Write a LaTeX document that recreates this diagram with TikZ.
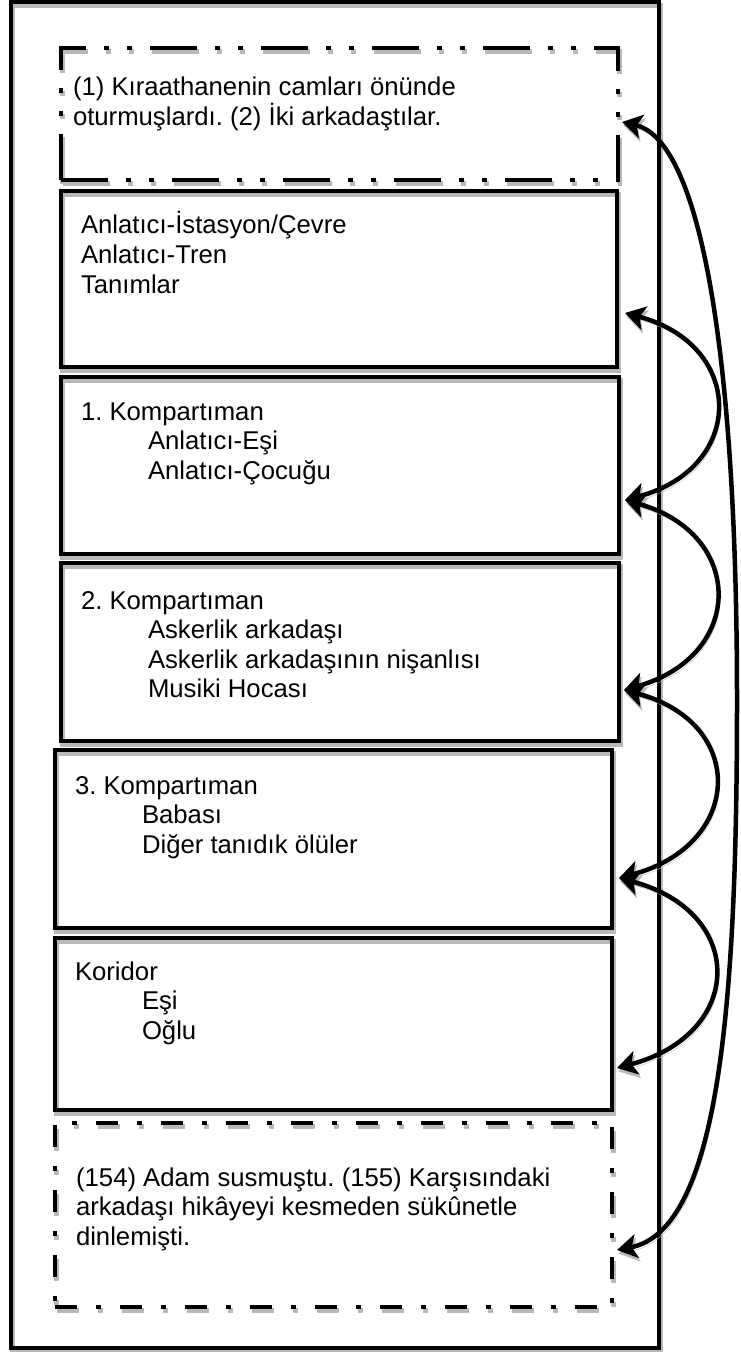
\documentclass[tikz,border=0pt]{standalone}
\usepackage{fontspec}
\setmainfont{Liberation Sans}
\usetikzlibrary{arrows.meta}
\frenchspacing
\begin{document}
\begin{tikzpicture}[x=1bp,y=-1bp,
  shadowed/.style={preaction={draw=black!28, transform canvas={shift={(1.5bp,-3.5bp)}}}},
  boxshape/.style={rectangle, anchor=north west, inner sep=0pt, outer sep=0pt, line width=4.5bp, draw=black, shadowed},
  solidbox/.style={boxshape},
  ddbox/.style={boxshape, dash pattern=on 47bp off 18bp on 5bp off 18bp on 5bp off 18bp},
  dbox/.style={boxshape, dash pattern=on 22bp off 19bp on 5bp off 19bp},
  txt/.style={anchor=base west, inner sep=0pt, outer sep=0pt, font=\fontsize{25.7bp}{29.5bp}\selectfont},
  link/.style={draw=black, line width=4.5bp, shadowed,
    {Stealth[length=20bp,width=24bp,inset=5bp]}-{Stealth[length=20bp,width=24bp,inset=5bp]}}
]
\useasboundingbox (0,0) rectangle (740,1352);
\fill[white] (0,0) rectangle (740,1352);

% outer frame
\node[boxshape, minimum width=648bp, minimum height=1346bp] (outer) at (11,2) {};

% boxes
\node[ddbox,    minimum width=557bp, minimum height=132bp] (b1) at (61,48) {};
\node[solidbox, minimum width=556bp, minimum height=176bp] (b2) at (61,191) {};
\node[solidbox, minimum width=558bp, minimum height=177bp] (b3) at (61,377) {};
\node[solidbox, minimum width=558bp, minimum height=178bp] (b4) at (61,563) {};
\node[solidbox, minimum width=557bp, minimum height=178bp] (b5) at (55,750) {};
\node[solidbox, minimum width=557bp, minimum height=172bp] (b6) at (55,938) {};
\node[dbox,     minimum width=557bp, minimum height=184bp] (b7) at (55,1123) {};

% texts
\node[txt] (t1a) at (73,96) {(1) Kıraathanenin camları önünde};
\node[txt] (t1b) at (73,125.5) {oturmuşlardı. (2) İki arkadaştılar.};

\node[txt] (t2a) at (81,234) {Anlatıcı-İstasyon/Çevre};
\node[txt] (t2b) at (81,263.5) {Anlatıcı-Tren};
\node[txt] (t2c) at (81,293) {Tanımlar};

\node[txt] (t3a) at (81,420) {1. Kompartıman};
\node[txt] (t3b) at (148,449.5) {Anlatıcı-Eşi};
\node[txt] (t3c) at (148,479) {Anlatıcı-Çocuğu};

\node[txt] (t4a) at (81,609) {2. Kompartıman};
\node[txt] (t4b) at (148,638.5) {Askerlik arkadaşı};
\node[txt] (t4c) at (148,668) {Askerlik arkadaşının nişanlısı};
\node[txt] (t4d) at (148,697.5) {Musiki Hocası};

\node[txt] (t5a) at (75,794) {3. Kompartıman};
\node[txt] (t5b) at (142,823.5) {Babası};
\node[txt] (t5c) at (142,853) {Diğer tanıdık ölüler};

\node[txt] (t6a) at (75,980) {Koridor};
\node[txt] (t6b) at (142,1009.5) {Eşi};
\node[txt] (t6c) at (142,1039) {Oğlu};

\node[txt] (t7a) at (69,1186) {\ (154) Adam susmuştu. (155) Karşısındaki};
\node[txt] (t7b) at (76,1215.5) {arkadaşı hikâyeyi kesmeden sükûnetle};
\node[txt] (t7c) at (76,1245) {dinlemişti.};

% arrow end points
\coordinate (p1) at (622,122);
\coordinate (p2) at (625,313);
\coordinate (p3) at (625,500);
\coordinate (p4) at (624,690);
\coordinate (p5) at (619,878);
\coordinate (p6) at (617,1068);
\coordinate (p7) at (617,1250);
\coordinate (bend) at (737,700);

% short arcs
\draw[link] (p2) .. controls +(121,32) and +(121,-32) .. (p3);
\draw[link] (p3) .. controls +(121,34) and +(121,-34) .. (p4);
\draw[link] (p4) .. controls +(124,33) and +(124,-33) .. (p5);
\draw[link] (p5) .. controls +(128,34) and +(128,-34) .. (p6);

% long arc
\draw[link] (p1) .. controls (700,140) and (737,350) .. (bend)
  .. controls (737,1000) and (720,1230) .. (p7);
\end{tikzpicture}
\end{document}
